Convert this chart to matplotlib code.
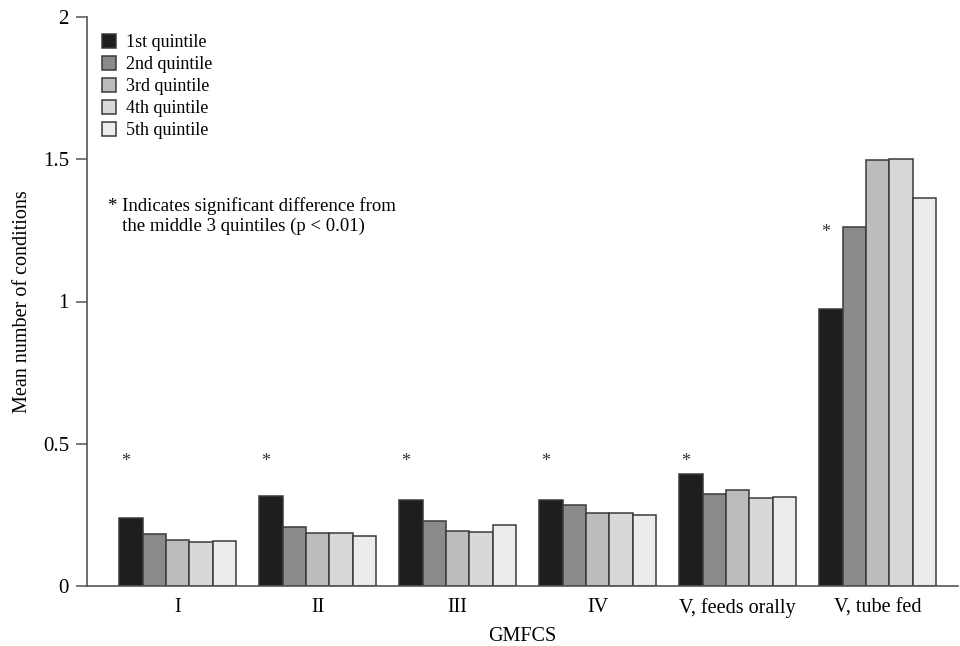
import matplotlib
matplotlib.use("Agg")
import matplotlib.pyplot as plt
import numpy as np

plt.rcParams["font.family"] = ["Liberation Serif", "DejaVu Serif"]

groups = ["I", "II", "III", "IV", "V, feeds orally", "V, tube fed"]
quintiles = ["1st quintile", "2nd quintile", "3rd quintile", "4th quintile", "5th quintile"]

q1 = [0.240, 0.317, 0.304, 0.302, 0.393, 0.972]
q2 = [0.184, 0.207, 0.229, 0.286, 0.324, 1.263]
q3 = [0.163, 0.188, 0.194, 0.257, 0.338, 1.496]
q4 = [0.154, 0.188, 0.189, 0.256, 0.310, 1.501]
q5 = [0.157, 0.174, 0.215, 0.250, 0.312, 1.364]

# height of the significance asterisk over each group
star_y = [0.438, 0.438, 0.438, 0.438, 0.438, 1.244]

colors = ["#1e1e1e", "#8a8a8a", "#bbbcbb", "#d8d8d8", "#ececec"]
note = "* Indicates significant difference from\n   the middle 3 quintiles (p < 0.01)"

fig = plt.figure(figsize=(9.6, 6.46), dpi=100)
ax = fig.add_axes([87 / 960, 1 - 586 / 646, 871 / 960, 569 / 646])

x = np.arange(len(groups))
w = 1 / 6
for i, (vals, col) in enumerate(zip([q1, q2, q3, q4, q5], colors)):
    ax.bar(x + (i - 2) * w, vals, w, color=col, edgecolor="#3a3a3a",
           linewidth=1.1, label=quintiles[i], zorder=2)

for g, sy in zip(x, star_y):
    ax.text(g - 2.5 * w + 0.25 * w, sy, "*", ha="center", va="center",
            fontsize=13, color="#333333")

ax.text(108 / 960, 1 - 216 / 646, note, transform=fig.transFigure,
        ha="left", va="center", fontsize=13.5, linespacing=1.2)

ax.set_xlim(-0.648, 5.574)
ax.set_ylim(0, 2)
ax.set_yticks([0, 0.5, 1, 1.5, 2])
ax.set_yticklabels(["0", "0.5", "1", "1.5", "2"])
ax.set_xticks(x)
ax.set_xticklabels(groups)

for s in ["top", "right"]:
    ax.spines[s].set_visible(False)
for s in ["left", "bottom"]:
    ax.spines[s].set_color("#555555")
    ax.spines[s].set_linewidth(1.2)

ax.tick_params(axis="y", direction="out", length=8, width=1.1, color="#555555",
               labelsize=15, pad=5)
ax.tick_params(axis="x", length=0, labelsize=14.5, pad=9)

ax.set_ylabel("Mean number of conditions", fontsize=14.5, labelpad=8)
ax.set_xlabel("GMFCS", fontsize=14.5, labelpad=6)

ax.legend(loc="upper left", bbox_to_anchor=(102 / 960, 1 - 34 / 646),
          bbox_transform=fig.transFigure, frameon=False, fontsize=13,
          handlelength=0.8, handleheight=0.8, handletextpad=0.55,
          labelspacing=0.27, borderpad=0, borderaxespad=0)

fig.savefig("out.png", dpi=100)
